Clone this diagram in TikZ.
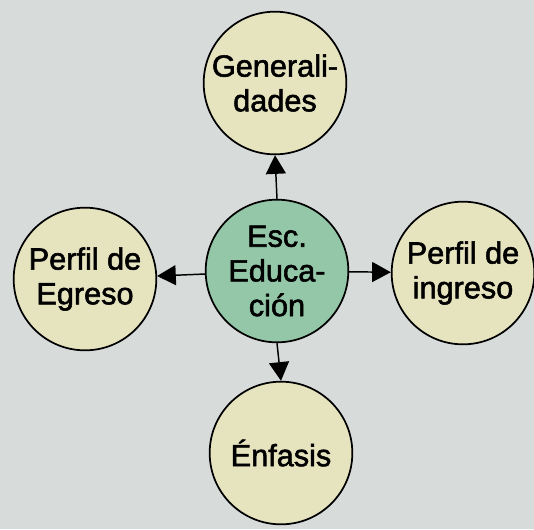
\documentclass[tikz,border=0pt]{standalone}
\usepackage{fontspec}
\setmainfont{Liberation Sans}
\newfontfamily\gruesa{Liberation Sans}[FakeBold=1.8]
\usetikzlibrary{arrows.meta}

\definecolor{fondo}{HTML}{D7DBDA}
\definecolor{crema}{HTML}{E6E4BF}
\definecolor{verde}{HTML}{93C7A8}

\tikzset{
  tema/.style={circle, draw, line width=1.3pt, fill=crema, minimum size=107pt,
    inner sep=0pt, align=center, font=\gruesa\fontsize{23}{26}\selectfont},
  flecha/.style={line width=1.1pt, -{Triangle[length=14pt,width=15pt]}}
}

\begin{document}
\begin{tikzpicture}[x=0.75pt,y=0.75pt,yscale=-1,xscale=1]
    %fondo
    \fill[fondo] (0,0) rectangle (534,529);
    \useasboundingbox (0,0) rectangle (534,529);

    % Nodo central
    \node [tema, fill=verde] (esc) at (277,271) {Esc.\\Educa-\\ción};
    % Nodos exteriores
    \node [tema] (gen) at (275,83) {Generali-\\dades};
    \node [tema] (egr) at (85,279) {Perfil de\\Egreso};
    \node [tema] (ing) at (463,273) {Perfil de\\ingreso};
    \node [tema] (enf) at (281,453) {Énfasis};

    % Flechas
    \draw [flecha] (esc.north) -- (gen.south);
    \draw [flecha] (esc) -- (egr);
    \draw [flecha] (esc) -- (ing);
    \draw [flecha] (esc.south) -- (enf.north);
\end{tikzpicture}
\end{document}
